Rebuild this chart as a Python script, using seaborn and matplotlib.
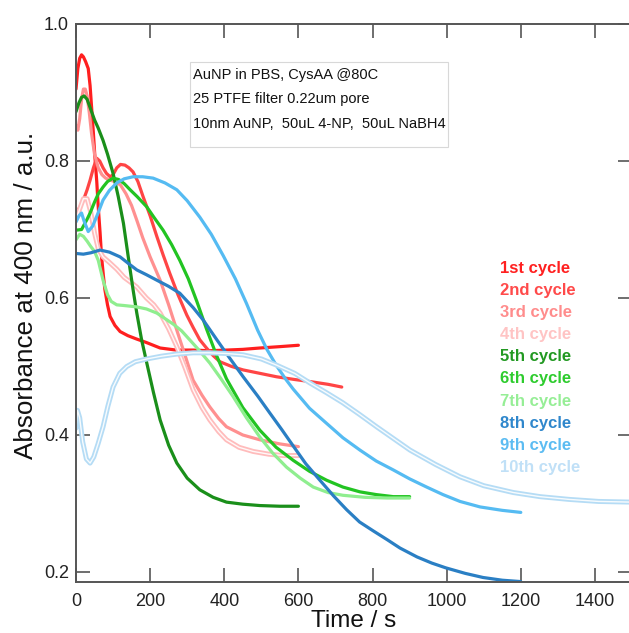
import numpy as np
import pandas as pd
import matplotlib
matplotlib.use("Agg")
import matplotlib.pyplot as plt
from matplotlib.patches import Rectangle
import seaborn as sns

# ---------------- data ----------------
labels = ["1st cycle", "2nd cycle", "3rd cycle", "4th cycle", "5th cycle",
          "6th cycle", "7th cycle", "8th cycle", "9th cycle", "10th cycle"]

t1 = [0, 5, 10, 15, 20, 26, 33, 38, 42, 47, 51, 56, 60, 65, 69, 74, 78, 85, 92, 105, 119, 140, 164, 190, 227, 270, 316, 360, 407, 450, 496, 550, 600]
a1 = [0.905, 0.935, 0.950, 0.955, 0.952, 0.945, 0.935, 0.910, 0.879, 0.840, 0.806, 0.770, 0.733, 0.695, 0.660, 0.632, 0.612, 0.590, 0.573, 0.560, 0.551, 0.545, 0.540, 0.535, 0.527, 0.524, 0.524, 0.523, 0.524, 0.525, 0.527, 0.529, 0.531]

t2 = [0, 10, 20, 30, 38, 47, 56, 64, 73, 82, 92, 100, 110, 120, 132, 143, 154, 167, 181, 200, 218, 235, 253, 275, 299, 316, 334, 352, 370, 388, 420, 451, 496, 541, 590, 631, 680, 717]
a2 = [0.725, 0.732, 0.743, 0.758, 0.772, 0.790, 0.804, 0.800, 0.790, 0.782, 0.777, 0.780, 0.790, 0.795, 0.794, 0.790, 0.784, 0.770, 0.748, 0.720, 0.690, 0.663, 0.636, 0.605, 0.575, 0.557, 0.539, 0.527, 0.516, 0.507, 0.500, 0.495, 0.490, 0.485, 0.481, 0.478, 0.474, 0.470]

t3 = [0, 5, 10, 15, 20, 25, 30, 36, 42, 50, 60, 70, 80, 92, 105, 120, 135, 150, 165, 180, 200, 227, 250, 272, 295, 316, 340, 361, 385, 406, 450, 496, 550, 600]
a3 = [0.852, 0.845, 0.862, 0.890, 0.905, 0.905, 0.895, 0.870, 0.840, 0.810, 0.790, 0.780, 0.775, 0.772, 0.770, 0.765, 0.752, 0.735, 0.712, 0.688, 0.660, 0.626, 0.590, 0.553, 0.515, 0.480, 0.458, 0.441, 0.424, 0.412, 0.400, 0.393, 0.387, 0.383]

t4 = [0, 10, 20, 30, 40, 50, 60, 73, 90, 110, 130, 150, 164, 190, 210, 227, 250, 272, 295, 316, 340, 361, 385, 406, 440, 478, 520, 560, 600]
a4 = [0.715, 0.730, 0.745, 0.745, 0.725, 0.695, 0.672, 0.660, 0.652, 0.642, 0.630, 0.622, 0.616, 0.600, 0.590, 0.578, 0.555, 0.529, 0.497, 0.466, 0.440, 0.422, 0.405, 0.393, 0.382, 0.376, 0.372, 0.370, 0.370]

t5 = [0, 8, 15, 22, 30, 40, 50, 60, 73, 85, 100, 114, 128, 141, 154, 164, 177, 191, 209, 227, 250, 272, 300, 334, 370, 406, 450, 496, 550, 600]
a5 = [0.872, 0.885, 0.893, 0.895, 0.890, 0.875, 0.860, 0.848, 0.830, 0.810, 0.782, 0.748, 0.709, 0.660, 0.612, 0.578, 0.539, 0.505, 0.462, 0.422, 0.385, 0.359, 0.337, 0.320, 0.309, 0.302, 0.299, 0.297, 0.296, 0.296]

t6 = [0, 15, 30, 38, 50, 60, 73, 85, 100, 115, 130, 146, 165, 191, 210, 235, 258, 280, 303, 326, 352, 380, 406, 450, 496, 540, 586, 630, 676, 720, 766, 810, 856, 900]
a6 = [0.699, 0.700, 0.715, 0.724, 0.740, 0.752, 0.762, 0.770, 0.775, 0.773, 0.767, 0.758, 0.748, 0.733, 0.718, 0.699, 0.678, 0.655, 0.628, 0.595, 0.555, 0.515, 0.482, 0.440, 0.407, 0.382, 0.363, 0.347, 0.334, 0.324, 0.317, 0.313, 0.310, 0.310]

t7 = [0, 10, 20, 30, 40, 50, 60, 73, 85, 95, 110, 130, 164, 190, 218, 240, 262, 285, 305, 330, 361, 390, 424, 460, 496, 530, 568, 605, 640, 680, 720, 780, 840, 900]
a7 = [0.685, 0.693, 0.690, 0.683, 0.675, 0.668, 0.655, 0.626, 0.605, 0.595, 0.590, 0.589, 0.587, 0.584, 0.578, 0.570, 0.562, 0.552, 0.540, 0.525, 0.505, 0.483, 0.456, 0.425, 0.397, 0.374, 0.353, 0.337, 0.324, 0.316, 0.312, 0.309, 0.308, 0.308]

t8 = [0, 20, 40, 65, 90, 119, 140, 164, 190, 218, 250, 280, 316, 343, 380, 415, 451, 490, 523, 555, 586, 620, 658, 695, 730, 765, 802, 840, 874, 920, 960, 998, 1050, 1098, 1150, 1200]
a8 = [0.665, 0.664, 0.666, 0.670, 0.667, 0.660, 0.651, 0.641, 0.634, 0.626, 0.617, 0.607, 0.586, 0.568, 0.539, 0.512, 0.485, 0.457, 0.432, 0.408, 0.384, 0.358, 0.334, 0.311, 0.291, 0.273, 0.260, 0.247, 0.235, 0.222, 0.213, 0.206, 0.198, 0.192, 0.188, 0.186]

t9 = [0, 8, 15, 22, 33, 45, 58, 73, 90, 110, 130, 154, 180, 208, 240, 272, 300, 334, 365, 397, 430, 460, 490, 515, 540, 565, 586, 630, 676, 720, 766, 810, 856, 900, 946, 990, 1036, 1090, 1150, 1200]
a9 = [0.711, 0.720, 0.724, 0.712, 0.697, 0.705, 0.722, 0.743, 0.757, 0.768, 0.774, 0.777, 0.777, 0.775, 0.768, 0.758, 0.742, 0.718, 0.693, 0.662, 0.628, 0.592, 0.553, 0.525, 0.502, 0.482, 0.467, 0.439, 0.417, 0.396, 0.378, 0.362, 0.349, 0.336, 0.324, 0.313, 0.303, 0.295, 0.290, 0.287]

t10 = [0, 4, 10, 18, 28, 38, 48, 60, 73, 86, 100, 118, 137, 160, 191, 230, 270, 316, 360, 405, 451, 500, 541, 590, 631, 675, 720, 765, 811, 856, 901, 970, 1036, 1100, 1180, 1252, 1330, 1410, 1500]
a10 = [0.410, 0.436, 0.425, 0.390, 0.365, 0.359, 0.368, 0.388, 0.412, 0.442, 0.470, 0.490, 0.500, 0.507, 0.511, 0.515, 0.518, 0.520, 0.520, 0.519, 0.517, 0.511, 0.502, 0.490, 0.476, 0.462, 0.447, 0.430, 0.412, 0.395, 0.378, 0.357, 0.339, 0.326, 0.316, 0.310, 0.306, 0.303, 0.302]

times = [t1, t2, t3, t4, t5, t6, t7, t8, t9, t10]
values = [a1, a2, a3, a4, a5, a6, a7, a8, a9, a10]

x_ticks = [0, 200, 400, 600, 800, 1000, 1200, 1400]
y_ticks = [0.2, 0.4, 0.6, 0.8, 1.0]
y_tick_labels = ["0.2", "0.4", "0.6", "0.8", "1.0"]

note_lines = ["AuNP in PBS, CysAA @80C",
              "25 PTFE filter 0.22um pore",
              "10nm AuNP,  50uL 4-NP,  50uL NaBH4"]

# ---------------- styles ----------------
line_colors = ["#ff1f1f", "#ff4545", "#ff9090", "#ffbcbc", "#1a8f1a",
               "#22c422", "#8fee8f", "#2a7fc4", "#55bbf2", "#b5dcf5"]
label_colors = ["#ff2020", "#ff4a4a", "#ff8c8c", "#ffc4c4", "#229922",
                "#2ecc2e", "#96ee96", "#2f87cc", "#5cbcf2", "#c0e0f7"]
hollow = [False, False, False, True, False, False, False, False, False, True]

sns.set_style("ticks")
plt.rcParams["font.family"] = ["Liberation Sans", "DejaVu Sans"]

W, H = 629, 633
fig = plt.figure(figsize=(W / 100, H / 100), dpi=100)
ax = fig.add_axes([76 / W, 51 / H, 556 / W, 558 / H])

for lab, tt, aa, col, hol in zip(labels, times, values, line_colors, hollow):
    df = pd.DataFrame({"Time": tt, "Abs": aa})
    if hol:
        sns.lineplot(data=df, x="Time", y="Abs", ax=ax, color=col, lw=3.6,
                     sort=False, estimator=None)
        sns.lineplot(data=df, x="Time", y="Abs", ax=ax, color="white", lw=1.0,
                     sort=False, estimator=None, alpha=0.9)
    else:
        sns.lineplot(data=df, x="Time", y="Abs", ax=ax, color=col, lw=2.3,
                     sort=False, estimator=None)

ax.set_xlim(0, 1500)
ax.set_ylim(0.1854, 1.0)
ax.set_xticks(x_ticks)
ax.set_yticks(y_ticks)
ax.set_yticklabels(y_tick_labels)

for sp in ax.spines.values():
    sp.set_visible(True)
    sp.set_linewidth(1.4)
    sp.set_color("#555555")

ax.tick_params(direction="in", length=10, width=1.2, top=True, right=True,
               labelsize=13, colors="#555555", labelcolor="#222222")
ax.tick_params(axis="x", pad=8)
ax.tick_params(axis="y", pad=5)

ax.set_xlabel("Time / s", fontsize=17.5, color="#111111")
ax.set_ylabel("Absorbance at 400 nm / a.u.", fontsize=18.7, color="#111111")
ax.xaxis.set_label_coords(0.5, -0.05)
ax.yaxis.set_label_coords(-0.068, 0.514)

# annotation box
fig.patches.append(Rectangle((190 / W, 1 - 147 / H), (448 - 190) / W, (147 - 62) / H,
                             transform=fig.transFigure, facecolor="white",
                             edgecolor="#d8d8d8", lw=0.8, zorder=5))
for i, line in enumerate(note_lines):
    fig.text(193 / W, 1 - (75 + 24.5 * i) / H, line, fontsize=10.5,
             ha="left", va="center", color="#111111", zorder=6)

# colored cycle labels
for i, (lab, col) in enumerate(zip(labels, label_colors)):
    fig.text(500 / W, 1 - (268 + 22.2 * i) / H, lab, fontsize=12,
             fontweight="bold", ha="left", va="center", color=col)

fig.savefig("out.png", dpi=100)
